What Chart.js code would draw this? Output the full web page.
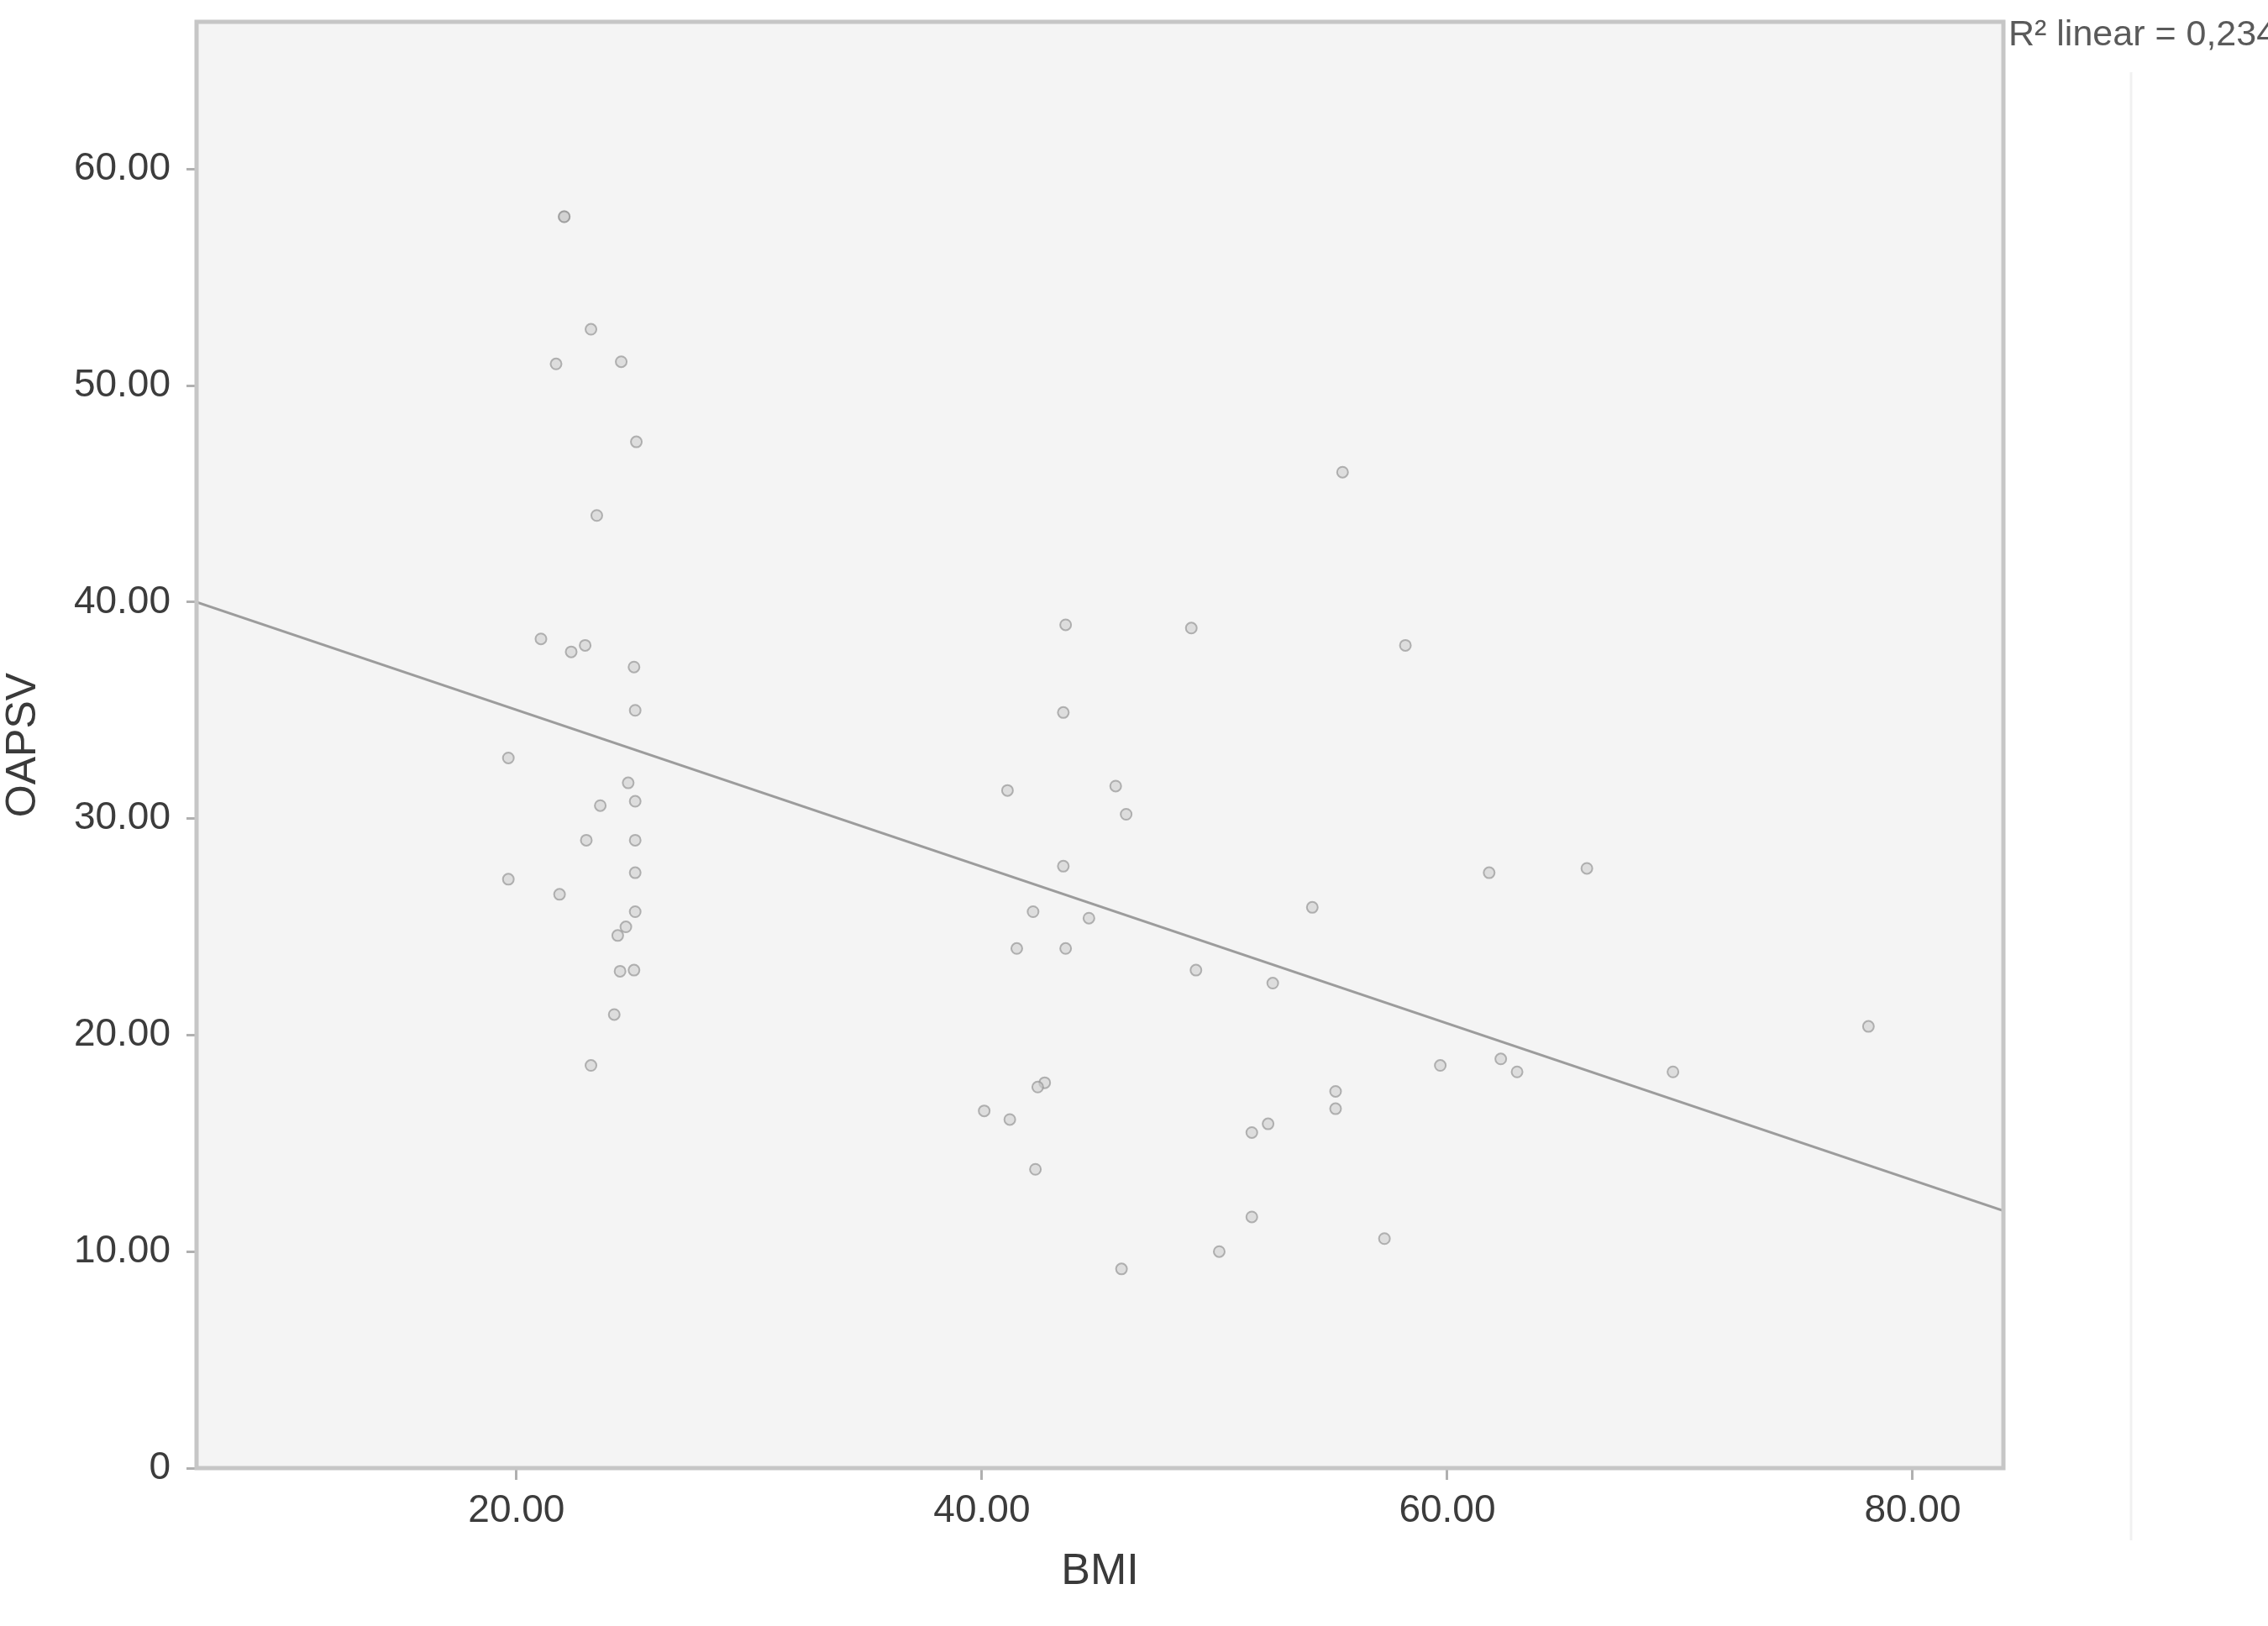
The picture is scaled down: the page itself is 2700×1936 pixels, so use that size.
<!DOCTYPE html>
<html>
<head>
<meta charset="utf-8">
<script src="https://cdn.jsdelivr.net/npm/chart.js@4/dist/chart.umd.min.js"></script>
<style>
  html, body { margin: 0; padding: 0; background: #fff; }
  #wrap { width: 2700px; height: 1936px; position: relative; }
</style>
</head>
<body>
<div id="wrap"><canvas id="myChart" width="2700" height="1936"></canvas></div>
<script>
/* globals Chart:false */

// values
const bmi = [
  22.05, 22.05, 23.2, 21.7, 24.5, 25.15, 23.45,
  21.05, 22.35, 22.95, 25.05, 25.1, 19.65, 24.8, 25.1, 23.6,
  23.0, 25.1, 25.1, 19.65, 21.85, 25.1, 24.7, 24.35, 24.45,
  25.05, 24.2, 23.2,
  43.6, 49.0, 58.2, 55.5, 43.5, 41.1, 45.75, 46.2, 43.5,
  61.8, 66.0, 54.2, 42.2, 44.6, 41.5, 43.6, 49.2, 52.5,
  59.7, 62.3, 63.0, 69.7, 78.1, 42.7, 42.4, 55.2, 55.2,
  40.1, 41.2, 42.3, 46.0, 50.2, 51.6, 51.6, 52.3, 57.3
]
const oapsv = [
  57.8, 57.8, 52.6, 51.0, 51.1, 47.4, 44.0,
  38.3, 37.7, 38.0, 37.0, 35.0, 32.8, 31.65, 30.8, 30.6,
  29.0, 29.0, 27.5, 27.2, 26.5, 25.7, 25.0, 24.6, 22.95,
  23.0, 20.95, 18.6,
  38.95, 38.8, 38.0, 46.0, 34.9, 31.3, 31.5, 30.2, 27.8,
  27.5, 27.7, 25.9, 25.7, 25.4, 24.0, 24.0, 23.0, 22.4,
  18.6, 18.9, 18.3, 18.3, 20.4, 17.8, 17.6, 17.4, 16.6,
  16.5, 16.1, 13.8, 9.2, 10.0, 11.6, 15.5, 15.9, 10.6
]
const xTicks = [20, 40, 60, 80]
const yTicks = [0, 10, 20, 30, 40, 50, 60]
const xRange = [6.25, 83.9]
const yRange = [0, 66.8]
// linear fit as drawn in the figure
const fitIntercept = 42.26
const fitSlope = -0.362
const fitLabel = 'R\u00B2 linear = 0,234'

const points = bmi.map((x, i) => ({ x: x, y: oapsv[i] }))
const fitLine = xRange.map(x => ({ x: x, y: fitIntercept + fitSlope * x }))

const plotFrame = {
  id: 'plotFrame',
  beforeDraw(chart) {
    const { ctx, chartArea: a } = chart
    ctx.save()
    ctx.fillStyle = '#f4f4f4'
    ctx.fillRect(a.left, a.top, a.right - a.left, a.bottom - a.top)
    // faint divider at the right
    ctx.strokeStyle = '#f1f1f1'
    ctx.lineWidth = 3
    ctx.beginPath()
    ctx.moveTo(2537, 86)
    ctx.lineTo(2537, 1834)
    ctx.stroke()
    ctx.restore()
  },
  afterDraw(chart) {
    const { ctx, chartArea: a } = chart
    ctx.save()
    ctx.strokeStyle = '#c6c6c6'
    ctx.lineWidth = 5
    ctx.strokeRect(a.left, a.top, a.right - a.left, a.bottom - a.top)
    ctx.fillStyle = '#5a5a5a'
    ctx.font = '43px "Liberation Sans", Arial, sans-serif'
    ctx.textAlign = 'left'
    ctx.textBaseline = 'middle'
    ctx.fillText(fitLabel, a.right + 6, 42)
    ctx.restore()
  }
}

const tickFont = { family: '"Liberation Sans", Arial, sans-serif', size: 46 }

const ctx = document.getElementById('myChart')
// eslint-disable-next-line no-unused-vars
const myChart = new Chart(ctx, {
  type: 'scatter',
  data: {
    datasets: [{
      data: points,
      pointRadius: 6.5,
      pointBorderWidth: 2,
      borderColor: 'rgba(150,150,150,0.7)',
      backgroundColor: 'rgba(205,205,205,0.6)',
      order: 2
    }, {
      type: 'line',
      data: fitLine,
      borderColor: '#9c9c9c',
      borderWidth: 3,
      pointRadius: 0,
      fill: false,
      order: 1
    }]
  },
  options: {
    responsive: false,
    animation: false,
    devicePixelRatio: 1,
    layout: { padding: { top: 26, right: 315, left: 0, bottom: 0 } },
    plugins: {
      legend: { display: false },
      tooltip: { enabled: false }
    },
    scales: {
      x: {
        type: 'linear',
        min: xRange[0],
        max: xRange[1],
        afterBuildTicks: scale => { scale.ticks = xTicks.map(v => ({ value: v })) },
        afterFit: scale => {
          scale.height = 188
          scale.paddingLeft = 0
          scale.paddingRight = 0
        },
        grid: { drawOnChartArea: false, color: '#b0b0b0', lineWidth: 3, tickLength: 14 },
        border: { display: false },
        ticks: {
          autoSkip: false,
          maxRotation: 0,
          padding: 10,
          color: '#3c3c3c',
          font: tickFont,
          callback: v => v.toFixed(2)
        },
        title: {
          display: true,
          text: 'BMI',
          color: '#3a3a3a',
          font: { family: '"Liberation Sans", Arial, sans-serif', size: 52, lineHeight: 1.2 },
          padding: { top: 0, bottom: 33 }
        }
      },
      y: {
        type: 'linear',
        min: yRange[0],
        max: yRange[1],
        afterBuildTicks: scale => { scale.ticks = yTicks.map(v => ({ value: v })) },
        afterFit: scale => {
          scale.width = 234
          scale.paddingTop = 0
          scale.paddingBottom = 0
        },
        grid: { drawOnChartArea: false, color: '#b0b0b0', lineWidth: 3, tickLength: 12 },
        border: { display: false },
        ticks: {
          autoSkip: false,
          padding: 19,
          color: '#3c3c3c',
          font: tickFont,
          callback: v => (v === 0 ? '0' : v.toFixed(2))
        },
        title: {
          display: true,
          text: 'OAPSV',
          color: '#3a3a3a',
          font: { family: '"Liberation Sans", Arial, sans-serif', size: 50, lineHeight: 1.0 },
          padding: { top: 3, bottom: 0 }
        }
      }
    }
  },
  plugins: [plotFrame]
})
</script>
</body>
</html>
